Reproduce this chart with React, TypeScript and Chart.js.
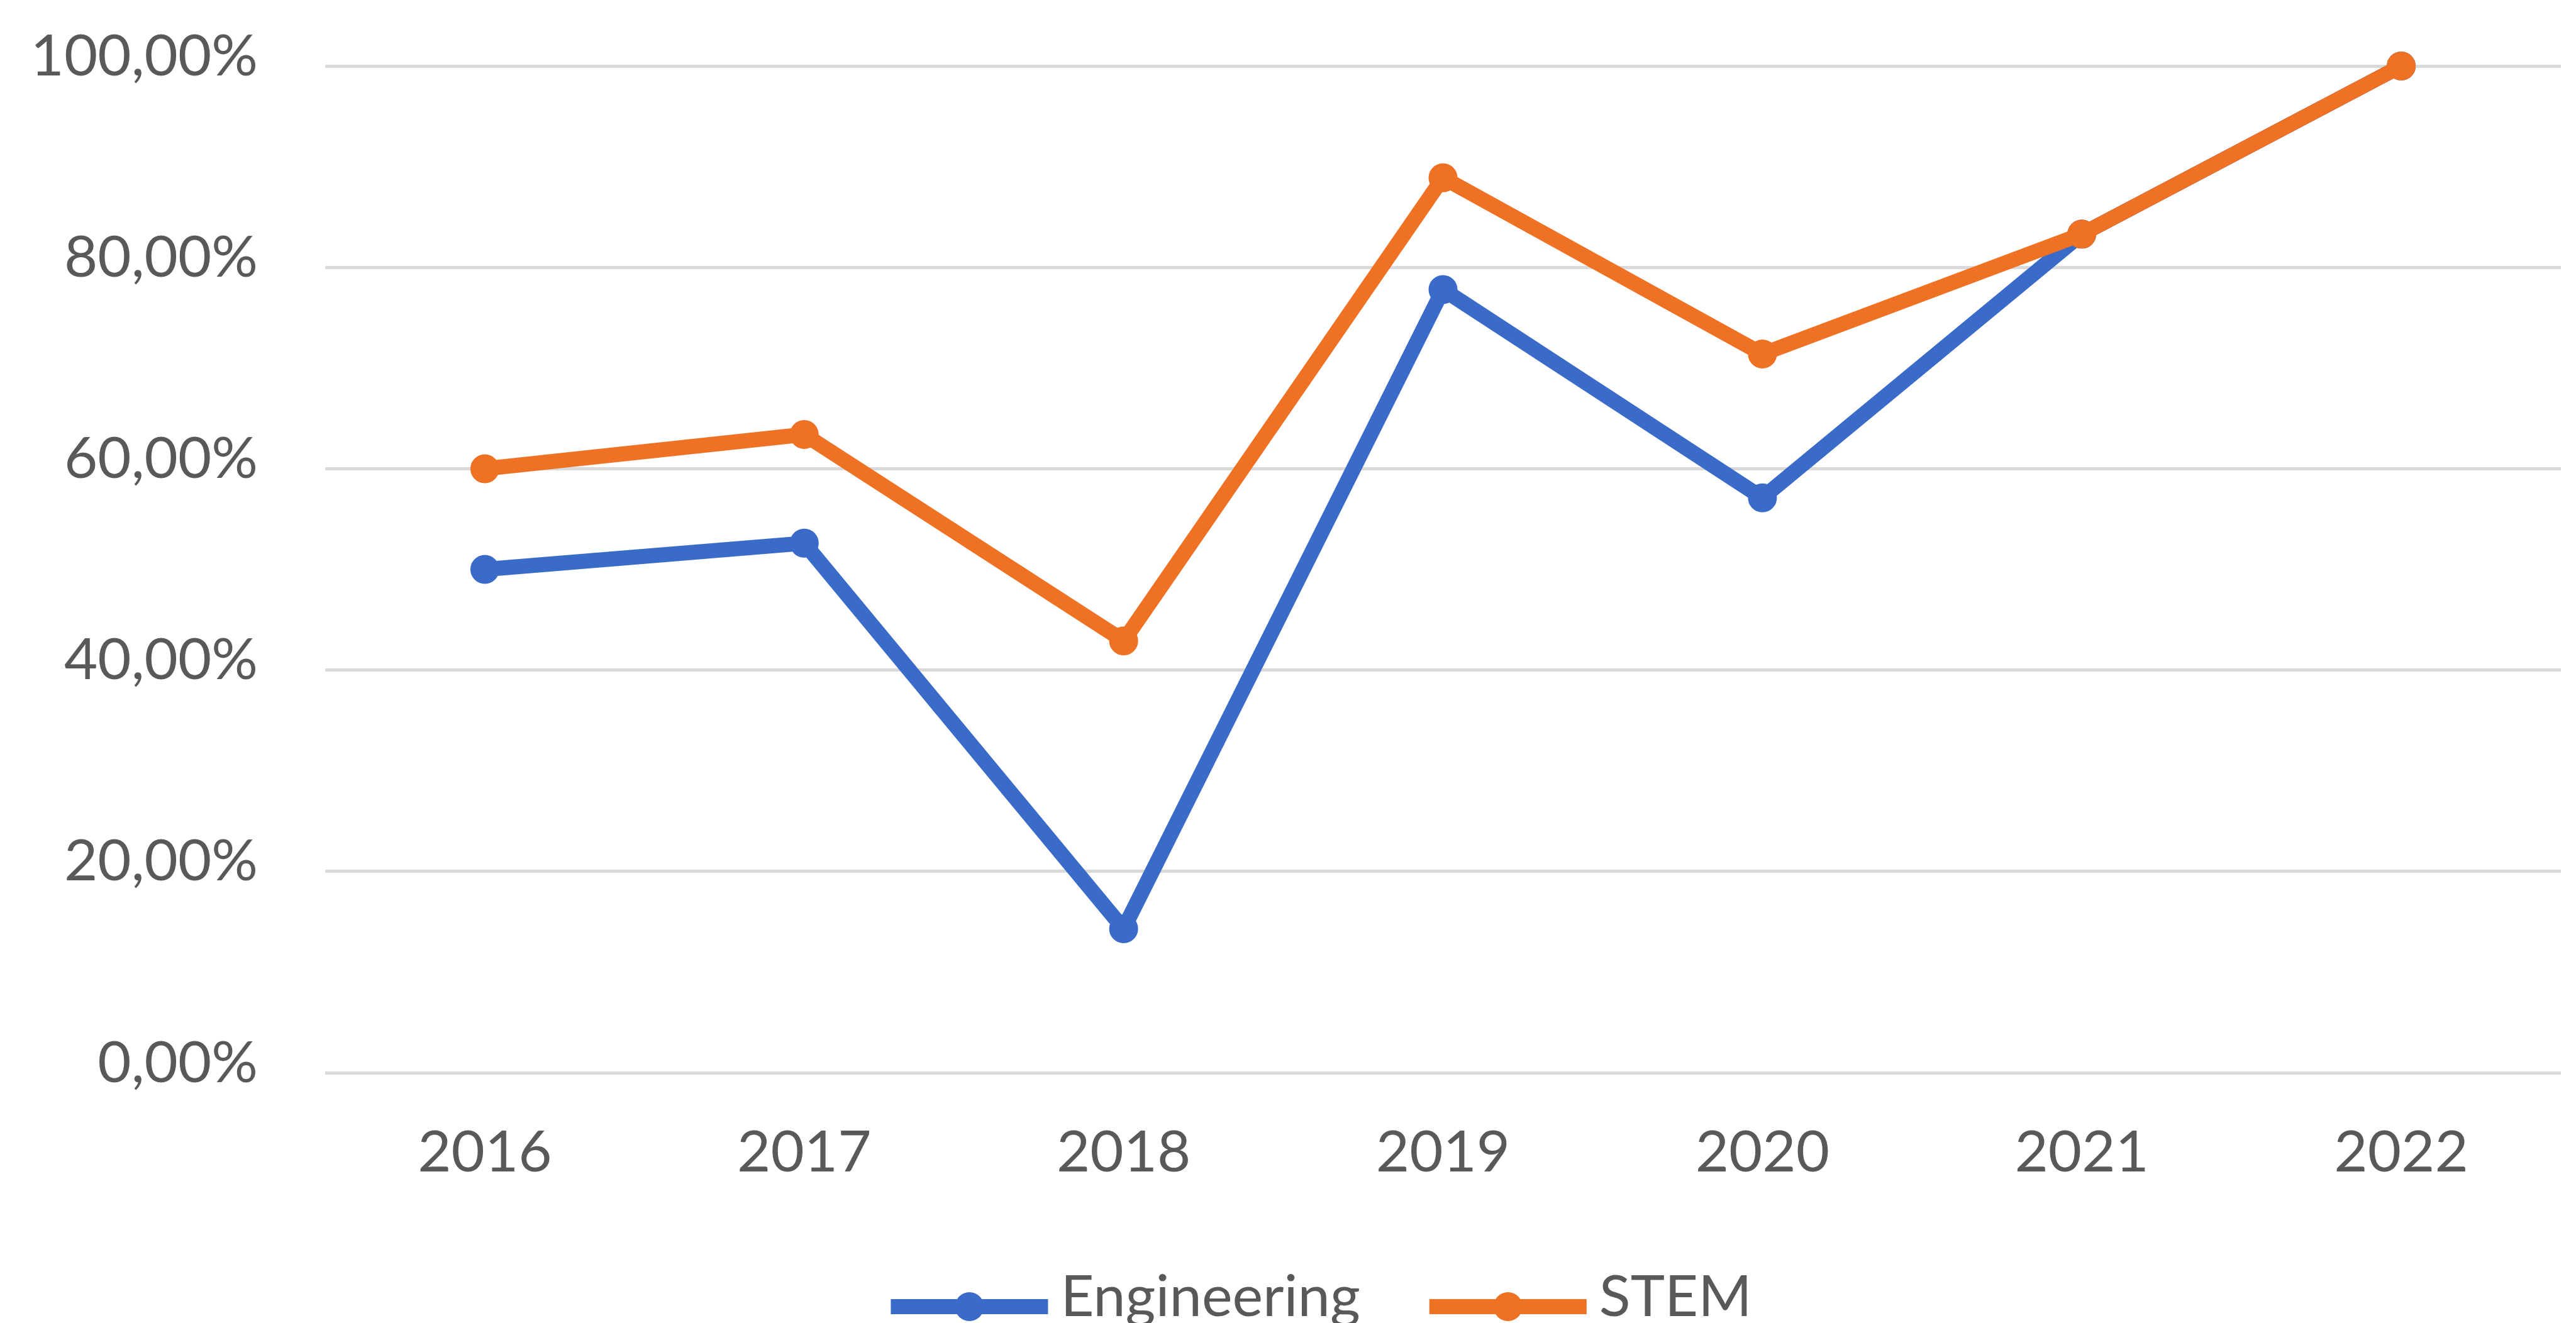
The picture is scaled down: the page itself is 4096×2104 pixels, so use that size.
import React, { useEffect, useRef } from "react";
import { Chart, registerables } from "chart.js";

Chart.register(...registerables);

// ---- data ----
const years = ["2016", "2017", "2018", "2019", "2020", "2021", "2022"];
const engineering = [50.0, 52.6, 14.3, 77.8, 57.1, 83.3, 100.0];
const stem = [60.0, 63.4, 42.9, 88.9, 71.4, 83.3, 100.0];
const yTicks = [0, 20, 40, 60, 80, 100];
const seriesNames = ["Engineering", "STEM"];
const seriesColors = ["#3A6BC8", "#EE7124"];

// ---- style ----
const W = 4096;
const H = 2104;
const FONT = "Lato, 'Open Sans', sans-serif";
const FS = 92;
const TEXT = "#595959";
const GRID = "#D9D9D9";
const LINE_W = 24;
const PT_R = 22;

const formatPct = (v: number) => v.toFixed(2).replace(".", ",") + "%";

const legendPlugin = {
  id: "excelLegend",
  afterDraw(chart: any) {
    const ctx = chart.ctx as CanvasRenderingContext2D;
    ctx.save();
    ctx.font = `${FS}px ${FONT}`;
    const lineLen = 250;
    const gap = 20;
    const itemGap = 110;
    const ds = chart.data.datasets;
    const widths = ds.map((d: any) => ctx.measureText(d.label).width);
    let total = 0;
    ds.forEach((_d: any, i: number) => {
      total += lineLen + gap + widths[i];
    });
    total += itemGap * (ds.length - 1);
    let x = 2101 - total / 2;
    const lineY = 2078;
    const baseY = 2093;
    ds.forEach((d: any, i: number) => {
      ctx.strokeStyle = d.borderColor;
      ctx.lineWidth = LINE_W;
      ctx.lineCap = "butt";
      ctx.beginPath();
      ctx.moveTo(x, lineY);
      ctx.lineTo(x + lineLen, lineY);
      ctx.stroke();
      ctx.fillStyle = d.borderColor;
      ctx.beginPath();
      ctx.arc(x + lineLen / 2, lineY, PT_R + 1, 0, Math.PI * 2);
      ctx.fill();
      ctx.fillStyle = TEXT;
      ctx.textAlign = "left";
      ctx.textBaseline = "alphabetic";
      ctx.fillText(d.label, x + lineLen + gap, baseY);
      x += lineLen + gap + widths[i] + itemGap;
    });
    ctx.restore();
  },
};

export default function App() {
  const ref = useRef<HTMLCanvasElement | null>(null);

  useEffect(() => {
    document.body.style.margin = "0";
    document.body.style.overflow = "hidden";
    document.body.style.background = "#ffffff";
    const canvas = ref.current;
    if (!canvas) return;

    const mkDs = (i: number, data: number[], order: number) => ({
      label: seriesNames[i],
      data,
      borderColor: seriesColors[i],
      backgroundColor: seriesColors[i],
      pointBackgroundColor: seriesColors[i],
      pointBorderColor: seriesColors[i],
      borderWidth: LINE_W,
      pointRadius: PT_R,
      pointBorderWidth: 2,
      pointHoverRadius: PT_R,
      borderJoinStyle: "round" as const,
      borderCapStyle: "round" as const,
      tension: 0,
      fill: false,
      clip: false as const,
      order,
    });

    const chart = new Chart(canvas, {
      type: "line",
      data: {
        labels: years,
        datasets: [mkDs(0, engineering, 1), mkDs(1, stem, 0)],
      },
      options: {
        responsive: false,
        animation: false,
        devicePixelRatio: 1,
        layout: { padding: { top: 105, right: 16, bottom: 0, left: 0 } },
        plugins: {
          legend: { display: false },
          tooltip: { enabled: false },
          title: { display: false },
        },
        scales: {
          x: {
            type: "category",
            offset: true,
            grid: { display: false, drawTicks: false },
            border: { display: false },
            ticks: {
              font: { family: FONT, size: FS },
              color: TEXT,
              padding: 72,
              maxRotation: 0,
              autoSkip: false,
            },
            afterFit: (s: any) => {
              s.height = 398;
              s.paddingLeft = 0;
              s.paddingRight = 0;
            },
          },
          y: {
            min: 0,
            max: 100,
            grid: { color: GRID, lineWidth: 5, drawTicks: false },
            border: { display: false },
            ticks: {
              stepSize: 20,
              callback: (v: any) => formatPct(Number(v)),
              font: { family: FONT, size: FS },
              color: TEXT,
              padding: 107,
              labelOffset: -15,
            },
            afterBuildTicks: (s: any) => {
              s.ticks = yTicks.map((v) => ({ value: v }));
            },
            afterFit: (s: any) => {
              s.width = 517;
              s.paddingTop = 0;
              s.paddingBottom = 0;
            },
          },
        },
      },
      plugins: [legendPlugin],
    });

    return () => {
      chart.destroy();
    };
  }, []);

  return (
    <div style={{ width: W, height: H, background: "#ffffff" }}>
      <canvas ref={ref} width={W} height={H} style={{ display: "block", width: W, height: H }} />
    </div>
  );
}
